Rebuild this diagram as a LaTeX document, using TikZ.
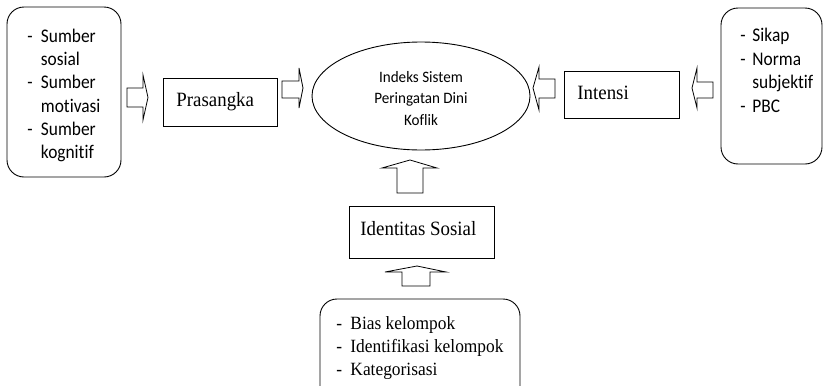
\documentclass[tikz,border=0pt]{standalone}
\usepackage{fontspec}
\usetikzlibrary{shapes.geometric}
\setmainfont{Liberation Serif}
\newfontfamily\sansS[FakeStretch=0.9,Ligatures=NoCommon]{Carlito}
\newfontfamily\sansE[FakeStretch=0.95,Ligatures=NoCommon]{Carlito}
\newfontfamily\serifS[FakeStretch=0.93,Ligatures=NoCommon]{Liberation Serif}
\begin{document}
\begin{tikzpicture}[x=1pt,y=-1pt,
  line width=0.9pt,
  rbox/.style={draw, rounded corners=17pt, inner sep=0pt},
  sbox/.style={draw, inner sep=0pt},
  oval/.style={draw, ellipse, inner sep=0pt},
  blockarrow/.style={draw, line width=0.8pt, fill=white, line join=miter},
  lsans/.style={anchor=base west, inner sep=0pt, font=\sansS\fontsize{19.3}{23}\selectfont},
  csans/.style={anchor=base, inner sep=0pt, font=\sansE\fontsize{15.9}{21}\selectfont},
  lserif/.style={anchor=base west, inner sep=0pt, font=\serifS\fontsize{20.3}{24}\selectfont},
  lserifs/.style={anchor=base west, inner sep=0pt, font=\serifS\fontsize{18.7}{23}\selectfont}]
\useasboundingbox (0,0) rectangle (823,386);
\clip (0,0) rectangle (823,386);
\fill[white] (0,0) rectangle (823,386);

% boxes
\node[rbox, minimum width=114pt, minimum height=170pt] (src) at (64,92) {};
\node[sbox, minimum width=114pt, minimum height=48pt] (pras) at (220,102) {};
\node[oval, minimum width=218pt, minimum height=108pt] (idx) at (421,96) {};
\node[sbox, minimum width=115pt, minimum height=47pt] (int) at (621.5,94.5) {};
\node[rbox, minimum width=101pt, minimum height=156pt] (att) at (771.5,86) {};
\node[sbox, minimum width=145pt, minimum height=52pt] (ids) at (421.5,232) {};
\node[rbox, minimum width=200pt, minimum height=130pt] (bot) at (420,364) {};

% left list
\node[lsans] (l1d) at (27,42) {-};
\node[lsans] (l1) at (40.5,42) {Sumber};
\node[lsans] (l2) at (40.5,65) {sosial};
\node[lsans] (l3d) at (27,88.5) {-};
\node[lsans] (l3) at (40.5,88.5) {Sumber};
\node[lsans] (l4) at (40.5,112) {motivasi};
\node[lsans] (l5d) at (27,135.5) {-};
\node[lsans] (l5) at (40.5,135.5) {Sumber};
\node[lsans] (l6) at (40.5,158.5) {kognitif};

% right list
\node[lsans] (r1d) at (740,41) {-};
\node[lsans] (r1) at (752,41) {Sikap};
\node[lsans] (r2d) at (740,65) {-};
\node[lsans] (r2) at (752,65) {Norma};
\node[lsans] (r3) at (752,88.5) {subjektif};
\node[lsans] (r4d) at (740,112) {-};
\node[lsans] (r4) at (752,112) {PBC};

% ellipse text
\node[csans] (e1) at (421,82) {Indeks Sistem};
\node[csans] (e2) at (421,103.5) {Peringatan Dini};
\node[csans] (e3) at (421,125) {Koflik};

% box labels
\node[lserif] (tp) at (176,106) {Prasangka};
\node[lserif] (ti) at (577,99) {Intensi};
\node[lserif] (ts) at (360,235) {Identitas Sosial};

% bottom list
\node[lserifs] (b1d) at (336,329) {-};
\node[lserifs] (b1) at (350,329) {Bias kelompok};
\node[lserifs] (b2d) at (336,352) {-};
\node[lserifs] (b2) at (350,352) {Identifikasi kelompok};
\node[lserifs] (b3d) at (336,375) {-};
\node[lserifs] (b3) at (350,375) {Kategorisasi};

% block arrows
\draw[blockarrow] (127,88) -- (143,88) -- (143,75) -- (148,97.5) -- (143,120) -- (143,107) -- (127,107) -- cycle;
\draw[blockarrow] (282,81) -- (299,81) -- (299,68) -- (303,88) -- (299,108) -- (299,98) -- (282,98) -- cycle;
\draw[blockarrow] (555,79) -- (539,79) -- (539,67) -- (533,88) -- (539,110) -- (539,98) -- (555,98) -- cycle;
\draw[blockarrow] (713,82) -- (697,82) -- (697,68) -- (692,88) -- (697,108) -- (697,98) -- (713,98) -- cycle;
\draw[blockarrow] (397,193) -- (397,168) -- (382,168) -- (410,160) -- (437,168) -- (423,168) -- (423,193) -- cycle;
\draw[blockarrow] (402,286) -- (402,272) -- (385,272) -- (417,266) -- (446,272) -- (430,272) -- (430,286) -- cycle;
\end{tikzpicture}
\end{document}
